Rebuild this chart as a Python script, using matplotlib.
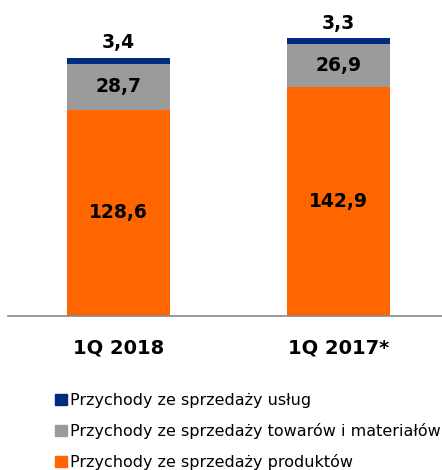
import matplotlib
matplotlib.use("Agg")
import matplotlib.pyplot as plt
from matplotlib.patches import Patch

categories = ["1Q 2018", "1Q 2017*"]
produkty = [128.6, 142.9]
towary = [28.7, 26.9]
uslugi = [3.4, 3.3]
labels_series = ["Przychody ze sprzedaży usług",
                 "Przychody ze sprzedaży towarów i materiałów",
                 "Przychody ze sprzedaży produktów"]

c_orange = "#FF6600"
c_gray = "#9B9B9B"
c_navy = "#002B7F"

fig = plt.figure(figsize=(4.42, 4.70), dpi=100)
ax = fig.add_axes([8/442, 1 - 316/470, 434/442, 316/470])

x = list(range(len(categories)))
w = 0.468
ax.bar(x, produkty, width=w, color=c_orange)
ax.bar(x, towary, width=w, bottom=produkty, color=c_gray)
bottom2 = [a + b for a, b in zip(produkty, towary)]
ax.bar(x, uslugi, width=w, bottom=bottom2, color=c_navy)

for i in x:
    ax.text(i, produkty[i] / 2, f"{produkty[i]:.1f}".replace(".", ","),
            ha="center", va="center", fontsize=13.5, fontweight="bold", color="black")
    ax.text(i, produkty[i] + towary[i] / 2, f"{towary[i]:.1f}".replace(".", ","),
            ha="center", va="center", fontsize=13.5, fontweight="bold", color="black")
    top = bottom2[i] + uslugi[i]
    ax.annotate(f"{uslugi[i]:.1f}".replace(".", ","), (i, top), xytext=(0, 11),
                textcoords="offset points", ha="center", va="center",
                fontsize=13.5, fontweight="bold", color="black")

ax.set_xlim(-0.502, 1.470)
ax.set_ylim(0, 197)
for s in ["top", "right", "left"]:
    ax.spines[s].set_visible(False)
ax.spines["bottom"].set_color("#888888")
ax.spines["bottom"].set_linewidth(1.2)
ax.set_yticks([])
ax.set_xticks(x)
ax.set_xticklabels(categories, fontsize=14, fontweight="bold")
ax.tick_params(axis="x", length=0, pad=16)

handles = [Patch(color=c_navy), Patch(color=c_gray), Patch(color=c_orange)]
fig.legend(handles, labels_series, loc="upper left",
           bbox_to_anchor=(55/442, 1 - 393/470), frameon=False,
           fontsize=11.5, handlelength=0.75, handleheight=0.75,
           handletextpad=0.2, labelspacing=0.94, borderaxespad=0, borderpad=0)

fig.savefig("out.png", dpi=100)
